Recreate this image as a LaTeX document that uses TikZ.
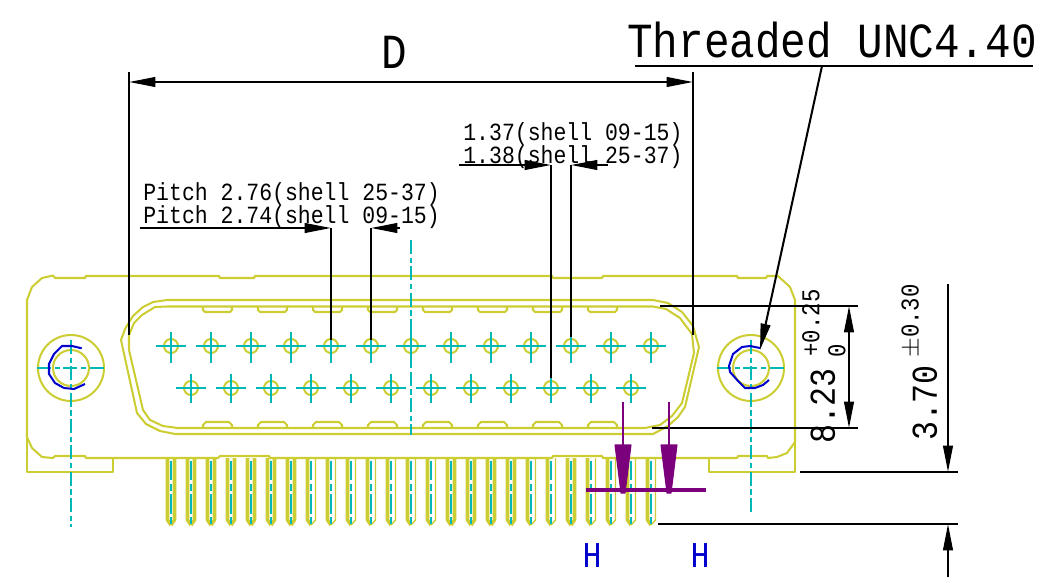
\documentclass[tikz,border=0pt]{standalone}
\usepackage{fontspec}
\setmonofont[FakeStretch=0.87]{Liberation Mono}
\usetikzlibrary{arrows.meta}
\definecolor{bodyyellow}{HTML}{CCCC33}
\definecolor{axiscyan}{HTML}{00B8B8}
\definecolor{screwblue}{HTML}{0000CC}
\definecolor{markpurple}{HTML}{7B007B}
\tikzset{
    body/.style={bodyyellow, line width=1.15pt, line join=round},
    lead/.style={bodyyellow, line width=2pt, line join=round},
    axis/.style={axiscyan, line width=1.1pt, dash pattern=on 8pt off 2pt on 3pt off 2pt},
    cross/.style={axiscyan, line width=1.1pt},
    dim/.style={black, line width=1.15pt},
    dimtip/.style={-{Triangle[length=15pt,width=5.5pt]}},
    dimtips/.style={{Triangle[length=15pt,width=5.5pt]}-{Triangle[length=15pt,width=5.5pt]}},
    cutmark/.style={markpurple, line width=1.7pt, line join=round},
    smalltext/.style={font=\ttfamily\fontsize{14.05}{14.05}\selectfont, inner sep=0pt, anchor=west},
    toltext/.style={font=\ttfamily\fontsize{14.6}{14.6}\selectfont, inner sep=0pt, rotate=90},
    sizetext/.style={font=\ttfamily\fontsize{20.7}{20.7}\selectfont, inner sep=0pt},
    titletext/.style={font=\ttfamily\fontsize{27.9}{27.9}\selectfont, inner sep=0pt},
}
\begin{document}
\begin{tikzpicture}[x=0.02cm, y=-0.02cm]
    \useasboundingbox (0, 0) rectangle (1049, 585);
    % flange
    \draw[body] (27, 300) -- (32, 287) -- (42, 278) -- (53, 275.5) -- (55, 278) -- (85, 278) -- (86, 276)
        -- (219, 276) -- (220, 278) -- (254, 278) -- (255, 276) -- (552, 276) -- (553, 278) -- (602, 278) -- (603, 276)
        -- (737, 276) -- (738, 278) -- (766, 278) -- (767, 276) -- (778, 276) -- (790, 287) -- (795, 300)
        -- (795, 442) -- (787, 453) -- (777, 457) -- (768, 458) -- (767, 456) -- (738, 456) -- (737, 458)
        -- (603, 458) -- (602, 456) -- (553, 456) -- (552, 458) -- (270, 458) -- (269, 456) -- (220, 456) -- (218, 458)
        -- (86, 458) -- (85, 456) -- (55, 456) -- (53, 458) -- (42, 457) -- (32, 448) -- (27, 437) -- cycle;
    \draw[body] (27, 437) -- (27, 472) -- (113, 472) -- (113, 458);
    \draw[body] (709, 458) -- (709, 472) -- (795, 472) -- (795, 442);
    % shell
    \draw[body] (121, 340) -- (125, 329) -- (133, 316) -- (143, 307) -- (153, 302) -- (167, 300) -- (653, 300) -- (668, 303)
        -- (682, 312) -- (693, 326) -- (699, 347) -- (685, 407) -- (678, 417) -- (668, 426) -- (653, 434)
        -- (175, 434) -- (160, 431) -- (146, 424) -- (137, 413) -- cycle;
    \draw[body] (129, 335) -- (134, 323) -- (142, 315) -- (155, 307) -- (167, 306.5) -- (653, 306.5) -- (666, 309)
        -- (680, 318) -- (692, 334) -- (694, 353) -- (682, 403) -- (672, 416) -- (660, 425) -- (645, 428)
        -- (178, 428) -- (163, 426) -- (150, 420) -- (143, 410) -- (129, 350) -- cycle;
    \foreach \x in {203, 258, ..., 588} {
        \draw[body] (\x, 306.5) -- (\x, 310) -- (\x+2, 312) -- (\x+27, 312) -- (\x+29, 310) -- (\x+29, 306.5);
        \draw[body] (\x, 428) -- (\x, 425) -- (\x+3, 422) -- (\x+26, 422) -- (\x+29, 425) -- (\x+29, 428);
    }
    % leads
    \foreach \x in {171, 191, ..., 651} {
        \draw[lead] (\x-3.5, 458) -- (\x-3.5, 520) -- (\x, 525);
    }
    \foreach \x in {171, 191, ..., 291, 451, 471, 491, 511, 571} {
        \draw[lead] (\x, 525) -- (\x+3.5, 520) -- (\x+3.5, 458);
    }
    \foreach \x in {311, 331, ..., 431, 531, 551, 591, 611, 631, 651} {
        \draw[body, line width=0.8pt] (\x, 525) -- (\x+4.5, 520) -- (\x+4.5, 458);
    }
    \foreach \x in {171, 191, ..., 651} {
        \draw[cross, dash pattern=on 11pt off 2pt on 4pt off 2pt] (\x, 461) -- (\x, 525);
    }
    % contacts
    \foreach \x in {171, 211, ..., 651} {
        \draw[body] (\x, 346) circle (7);
        \draw[cross] (\x-15, 346) -- (\x+15, 346);
        \draw[cross] (\x, 332) -- (\x, 363);
    }
    \foreach \x in {191, 231, ..., 631} {
        \draw[body] (\x, 388) circle (7);
        \draw[cross] (\x-15, 388) -- (\x+15, 388);
        \draw[cross] (\x, 374) -- (\x, 403);
    }
    \draw[axis] (411, 240) -- (411, 435);
    % screws
    \foreach \x/\ybot in {71/527, 751/513} {
        \draw[body] (\x, 368) circle (33);
        \draw[body] (\x, 368) circle (18);
        \draw[axis] (\x-34, 368) -- (\x+34, 368);
        \draw[axis] (\x, 340) -- (\x, \ybot);
    }
    \draw[screwblue, line width=1.15pt] (81.7, 348.3) -- (72, 346) -- (62, 346) -- (54, 354) -- (49, 364) -- (49, 374) -- (55, 383) -- (64, 388) -- (74, 389) -- (85, 384);
    \draw[screwblue, line width=1.15pt] (760, 348) -- (750, 346) -- (742, 347) -- (733, 354) -- (729, 366) -- (730, 372) -- (738, 381) -- (745, 388) -- (755, 388) -- (763, 385) -- (769, 380);
    % width and thread
    \draw[dim] (129, 72) -- (129, 335);
    \draw[dim] (693, 72) -- (693, 335);
    \draw[dim, dimtips] (129, 82) -- (693, 82);
    \node[titletext] (width) at (394, 52) {D};
    \draw[dim] (635, 66) -- (1033, 66);
    \draw[dim, dimtip] (822, 66) -- (760, 350);
    \node[titletext] (thread) at (832, 40) {Threaded UNC4.40};
    % pitch
    \node[smalltext] (pitcha) at (143, 194) {Pitch 2.76(shell 25-37)};
    \node[smalltext] (pitchb) at (143, 217) {Pitch 2.74(shell 09-15)};
    \draw[dim, dimtip] (140, 228) -- (331, 228);
    \draw[dim, dimtip] (400, 228) -- (371, 228);
    \draw[dim] (331, 228) -- (331, 340);
    \draw[dim] (371, 228) -- (371, 340);
    % row offset
    \node[smalltext] (rowa) at (463, 134) {1.37(shell 09-15)};
    \node[smalltext] (rowb) at (463, 157) {1.38(shell 25-37)};
    \draw[dim, dimtip] (459, 165) -- (551, 165);
    \draw[dim, dimtip] (608, 165) -- (571, 165);
    \draw[dim] (551, 165) -- (551, 378);
    \draw[dim] (571, 165) -- (571, 337);
    % heights
    \draw[dim] (660, 306) -- (858, 306);
    \draw[dim] (652, 428) -- (858, 428);
    \draw[dim, dimtips] (849, 306) -- (849, 428);
    \node[sizetext, rotate=90] (basic) at (823, 406) {8.23};
    \node[toltext] (upper) at (811, 323) {+0.25};
    \node[toltext] (lower) at (837, 351) {0};
    \draw[dim] (800, 472) -- (958, 472);
    \draw[dim] (658, 524) -- (958, 524);
    \draw[dim, dimtip] (948, 284) -- (948, 472);
    \draw[dim, dimtip] (948, 577) -- (948, 524);
    \node[sizetext, rotate=90] (pinbasic) at (925, 403) {3.70};
    \node[toltext] (pintol) at (911, 321) {$\pm$0.30};
    % section marks
    \foreach \x in {623, 669} {
        \draw[cutmark] (\x, 402) -- (\x, 445);
        \filldraw[cutmark, line width=0.6pt] (\x-8, 445) -- (\x+8, 445) -- (\x+2, 493) -- (\x-2, 493) -- cycle;
    }
    \draw[markpurple, line width=2pt] (586, 490) -- (706, 490);
    \node[sizetext, screwblue] (sectiona) at (592, 556) {H};
    \node[sizetext, screwblue] (sectionb) at (700, 556) {H};
\end{tikzpicture}
\end{document}
